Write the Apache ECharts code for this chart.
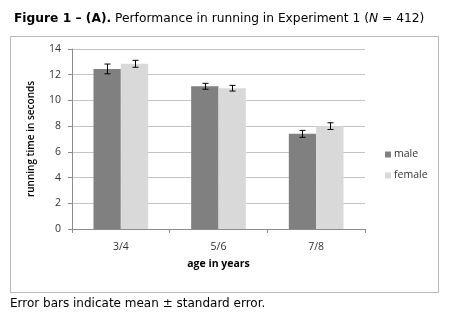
<!DOCTYPE html>
<html><head><meta charset="utf-8">
<script src="https://cdn.jsdelivr.net/npm/echarts@6/dist/echarts.min.js"></script>
<style>html,body{margin:0;padding:0;background:#fff}#c{width:456px;height:329px}</style>
</head><body><div id="c"></div>
<script>
var categories = ['3/4', '5/6', '7/8'];
var maleValues = [12.45, 11.1, 7.4];
var femaleValues = [12.85, 10.95, 8.0];
var maleSE = [0.38, 0.23, 0.27];
var femaleSE = [0.27, 0.22, 0.26];
var yTicks = [0, 2, 4, 6, 8, 10, 12, 14];

var GAP = 0.44;
function errData(vals, se) {
  return vals.map(function (v, i) { return [i, v - se[i], v + se[i]]; });
}
function errSeries(name, vals, se, side) {
  return {
    type: 'custom', name: name + ' err', silent: true, z: 10,
    encode: { x: 0, y: [1, 2] },
    data: errData(vals, se),
    renderItem: function (params, api) {
      var band = api.size([1, 0])[0];
      var group = band * (1 - GAP);
      var off = side * group / 4;
      var lo = api.coord([api.value(0), api.value(1)]);
      var hi = api.coord([api.value(0), api.value(2)]);
      var x = Math.round(lo[0] + off) + 0.5, cw = 3;
      var st = { stroke: '#000', lineWidth: 1 };
      return { type: 'group', children: [
        { type: 'line', shape: { x1: x, y1: lo[1], x2: x, y2: hi[1] }, style: st },
        { type: 'line', shape: { x1: x - cw, y1: lo[1], x2: x + cw, y2: lo[1] }, style: st },
        { type: 'line', shape: { x1: x - cw, y1: hi[1], x2: x + cw, y2: hi[1] }, style: st }
      ]};
    }
  };
}
var font = '"Open Sans", Lato, sans-serif';
var chart = echarts.init(document.getElementById('c'), null, { renderer: 'canvas' });
chart.setOption({
  animation: false,
  title: {
    left: 9, top: 8,
    text: '{b|Figure 1 – (A).} Performance in running in Experiment 1 ({i|N} = 412)',
    textStyle: {
      fontFamily: 'DejaVu Sans', fontSize: 12.25, fontWeight: 'normal', color: '#000',
      rich: {
        b: { fontFamily: 'DejaVu Sans', fontSize: 12.25, fontWeight: 'bold', color: '#000' },
        i: { fontFamily: 'DejaVu Sans', fontSize: 12.25, fontStyle: 'italic', color: '#000' }
      }
    }
  },
  graphic: [
    { type: 'rect', shape: { x: 10.5, y: 36.5, width: 428, height: 256 }, style: { fill: 'none', stroke: '#b8b8b8', lineWidth: 1 }, z: -1 },
    { type: 'text', left: 10, top: 298, style: { text: 'Error bars indicate mean ± standard error.', font: '12px "DejaVu Sans"', fill: '#000' } }
  ],
  legend: {
    orient: 'vertical', left: 380, top: 144, itemWidth: 6, itemHeight: 6, itemGap: 10,
    icon: 'rect',
    data: ['male', 'female'],
    textStyle: { fontFamily: font, fontSize: 10.5, color: '#333', padding: [0, 0, 0, -2] }
  },
  grid: { left: 72, right: 91, top: 49, bottom: 100, containLabel: false },
  xAxis: {
    type: 'category', data: categories,
    name: 'age in years', nameLocation: 'middle', nameGap: 30,
    nameTextStyle: { fontFamily: font, fontSize: 10.5, fontWeight: 'bold', color: '#000' },
    axisLine: { lineStyle: { color: '#8c8c8c' } },
    axisTick: { show: true, length: 4, alignWithLabel: false, lineStyle: { color: '#8c8c8c' } },
    axisLabel: { fontFamily: font, fontSize: 10.5, color: '#333', margin: 13 }
  },
  yAxis: {
    type: 'value', min: yTicks[0], max: yTicks[yTicks.length - 1], interval: 2,
    name: 'running time in seconds', nameLocation: 'middle', nameGap: 36, nameRotate: 90,
    nameTextStyle: { fontFamily: font, fontSize: 10, fontWeight: 600, color: '#000' },
    axisLine: { show: true, lineStyle: { color: '#8c8c8c' } },
    axisTick: { show: true, length: 4, lineStyle: { color: '#8c8c8c' } },
    axisLabel: { fontFamily: font, fontSize: 10.5, color: '#333', margin: 11 },
    splitLine: { lineStyle: { color: '#c4c4c4' } }
  },
  series: [
    { name: 'male', type: 'bar', data: maleValues, barGap: '0%', barCategoryGap: (GAP * 100) + '%', itemStyle: { color: '#808080' } },
    { name: 'female', type: 'bar', data: femaleValues, barGap: '0%', barCategoryGap: (GAP * 100) + '%', itemStyle: { color: '#d9d9d9' } },
    errSeries('male', maleValues, maleSE, -1),
    errSeries('female', femaleValues, femaleSE, 1)
  ]
});
</script></body></html>
